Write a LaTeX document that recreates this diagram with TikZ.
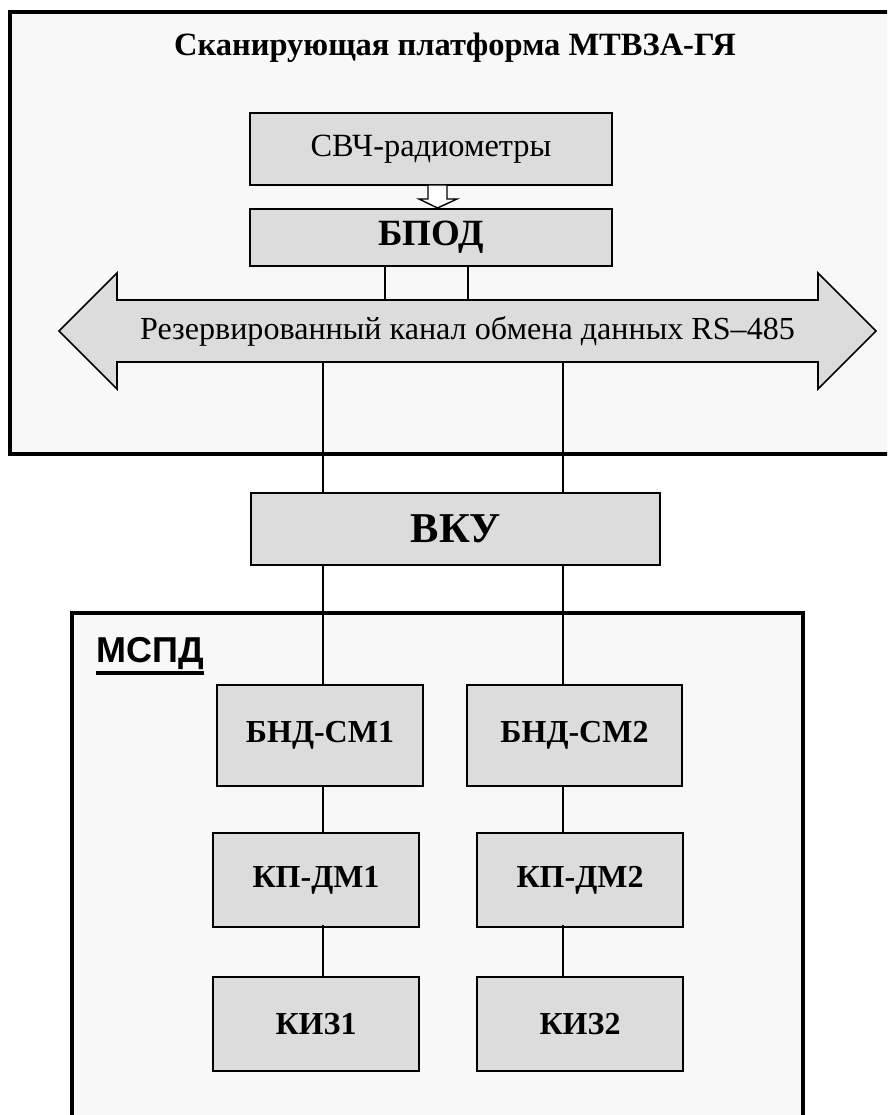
\documentclass[tikz,border=0pt]{standalone}
\usepackage{fontspec}
\setmainfont{Liberation Serif}
\newfontfamily\arialfont{Liberation Sans}
\usetikzlibrary{positioning,calc}
\definecolor{BoxGray}{HTML}{DCDCDC}
\definecolor{PanelGray}{HTML}{F8F8F8}
\newcommand\thickul[1]{\vtop{\hbox{#1}\kern1.5pt\hrule height 4pt}}

\begin{document}
\begin{tikzpicture}[x=1pt, y=-1pt,
  box/.style={draw, line width=1.6pt, fill=BoxGray, inner sep=0pt, align=center},
  panel/.style={draw, line width=4.5pt, fill=PanelGray},
  link/.style={line width=2.8pt},
  big/.style={font=\fontsize{32}{38}\selectfont\bfseries}
]
\useasboundingbox (0,0) rectangle (887,1115);
\clip (0,0) rectangle (887,1115);
% panels
\draw[panel] (10,12) rectangle (900,454);
\draw[panel] (72,613) rectangle (803,1130);
\node[font=\fontsize{32.5}{38}\selectfont\bfseries, inner sep=0pt, anchor=base] (title) at (455,56) {Сканирующая платформа МТВЗА-ГЯ};
\node[font=\arialfont\fontsize{36}{42}\selectfont\bfseries, inner sep=0pt, anchor=base west] (mspd) at (96,662) {\thickul{МСПД}};
% platform
\node[box, minimum width=362pt, minimum height=72pt, font=\fontsize{32.4}{38}\selectfont] (svch) at (431,149) {СВЧ-радиометры};
\node[box, minimum width=362pt, minimum height=57pt, font=\fontsize{37}{44}\selectfont\bfseries] (bpod) at (431,237.5) {БПОД};
\draw[line width=1.4pt, fill=white] (428,185) -- (447,185) -- (447,199) -- (457,199) -- (437.5,208)
  -- (419,199) -- (428,199) -- cycle;
% bus
\draw[line width=1.6pt, fill=BoxGray] (59,331) -- (117,273) -- (117,300) -- (818,300) -- (818,273)
  -- (876,331) -- (818,389) -- (818,362) -- (117,362) -- (117,389) -- cycle;
\node[minimum width=701pt, minimum height=62pt, inner sep=0pt, font=\fontsize{32.1}{38}\selectfont] (bus) at (467.5,331) {Резервированный канал обмена данных RS–485};
\coordinate (p1) at (385,0);
\coordinate (p2) at (468,0);
\draw[link] (bpod.south -| p1) -- (bus.north -| p1);
\draw[link] (bpod.south -| p2) -- (bus.north -| p2);
% lower chain
\node[box, minimum width=409pt, minimum height=72pt, font=\fontsize{42.5}{50}\selectfont\bfseries] (vku) at (455.5,529) {ВКУ};
\node[box, big, minimum width=206pt, minimum height=101pt] (bnd1) at (320,735.5) {БНД-СМ1};
\node[box, big, minimum width=215pt, minimum height=101pt] (bnd2) at (574.5,735.5) {БНД-СМ2};
\node[box, big, minimum width=206pt, minimum height=94pt] (kp1) at (316,880) {КП-ДМ1};
\node[box, big, minimum width=206pt, minimum height=94pt] (kp2) at (580,880) {КП-ДМ2};
\node[box, big, minimum width=206pt, minimum height=94pt] (kiz1) at (316,1024) {КИЗ1};
\node[box, big, minimum width=206pt, minimum height=94pt] (kiz2) at (580,1024) {КИЗ2};
\coordinate (c1) at (323,0);
\coordinate (c2) at (563,0);
\foreach \col in {c1,c2} {
  \draw[link] (bus.south -| \col) -- (vku.north -| \col);
}
\draw[link] (vku.south -| c1) -- (bnd1.north -| c1);
\draw[link] (vku.south -| c2) -- (bnd2.north -| c2);
\draw[link] (bnd1.south -| c1) -- (kp1.north -| c1);
\draw[link] (bnd2.south -| c2) -- (kp2.north -| c2);
\draw[link] ([yshift=3pt]kp1.south -| c1) -- (kiz1.north -| c1);
\draw[link] ([yshift=3pt]kp2.south -| c2) -- (kiz2.north -| c2);
\end{tikzpicture}
\end{document}
